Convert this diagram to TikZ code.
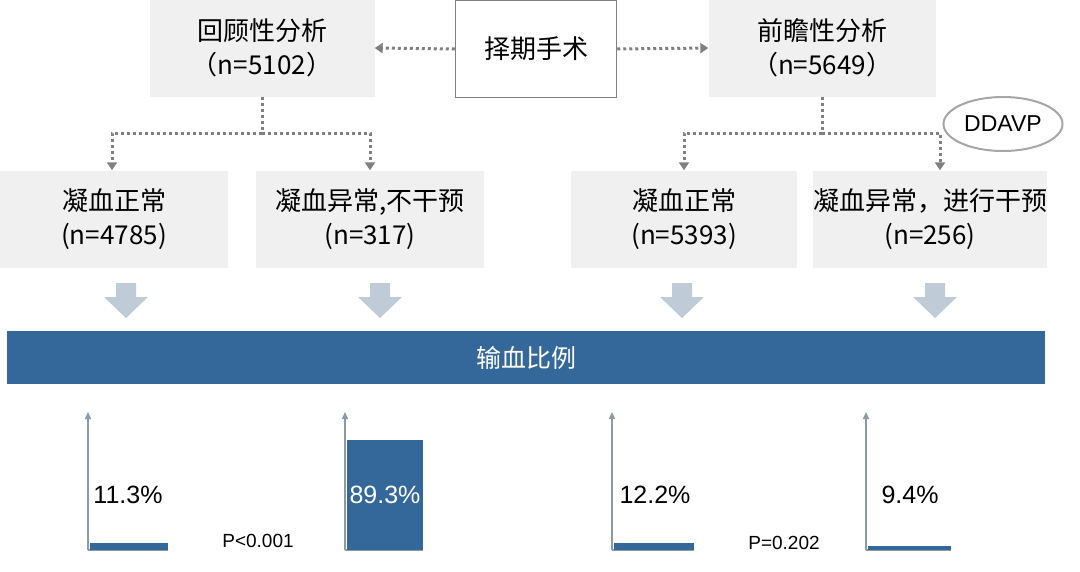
\documentclass[tikz,border=0pt]{standalone}
\usepackage{fontspec}
\setmainfont{Liberation Sans}
\newfontfamily\cjk{Noto Sans CJK SC}
\usetikzlibrary{arrows.meta,shapes.geometric}
\definecolor{boxg}{HTML}{F0F0F0}
\definecolor{dblue}{HTML}{35689A}
\definecolor{lblue}{HTML}{BFCCD8}
\definecolor{axg}{HTML}{8C9AA8}
\tikzset{
 gbox/.style={fill=boxg,draw=none,minimum height=97pt,align=center,font=\fontsize{26}{34}\selectfont\cjk,inner sep=0pt},
 dotarr/.style={draw=gray,line width=3pt,dash pattern=on 3pt off 3pt,-{Triangle[length=8pt,width=10pt,fill=gray]}},
 dotln/.style={draw=gray,line width=3pt,dash pattern=on 3pt off 3pt},
 blk/.style={fill=lblue,draw=none},
 axis/.style={draw=axg,line width=1.5pt},
 axarr/.style={draw=axg,line width=1.5pt,-{Triangle[length=7pt,width=6pt]}},
 pct/.style={font=\fontsize{25}{28}\selectfont},
}
\begin{document}
\begin{tikzpicture}[x=1pt,y=-1pt]
\useasboundingbox (0,0) rectangle (1080,571);
\node[gbox,minimum width=225pt] (r) at (262,48) {回顾性分析\\（n=5102）};
\node[draw=gray,line width=1.5pt,minimum width=161pt,minimum height=97pt,font=\fontsize{26}{30}\selectfont\cjk] (s) at (536,49) {择期手术};
\node[gbox,minimum width=227pt] (p) at (822,48) {前瞻性分析\\（n=5649）};
\draw[dotarr] (s.west) -- (r.east);
\draw[dotarr] (s.east) -- (p.west);
\node[draw=gray!70,line width=2pt,ellipse,minimum width=95pt,minimum height=54pt,font=\fontsize{23}{26}\selectfont] (dd) at (1003,124) {DDAVP};
\node[gbox,minimum width=228pt] (b1) at (114,219) {凝血正常\\(n=4785)};
\node[gbox,minimum width=228pt] (b2) at (370,219) {凝血异常,不干预\\(n=317)};
\node[gbox,minimum width=226pt] (b3) at (684,219) {凝血正常\\(n=5393)};
\node[gbox,minimum width=230pt] (b4) at (930,219) {凝血异常，进行干预\\(n=256)};
\coordinate (j1) at (262,133); \coordinate (j2) at (822,133);
\draw[dotln] (r.south) -- (j1);
\draw[dotarr] (j1) -| ([xshift=-2pt]b1.north);
\draw[dotarr] (j1) -| (b2.north);
\draw[dotln] (p.south) -- (j2);
\draw[dotarr] (j2) -| (b3.north);
\draw[dotarr] (j2) -| ([xshift=10pt]b4.north);
\foreach \x in {126,380,682,935}{
 \fill[blk] (\x-10,283) -- (\x+10,283) -- (\x+10,297) -- (\x+22,297) -- (\x,318) -- (\x-22,297) -- (\x-10,297) -- cycle;}
\node[fill=dblue,minimum width=1038pt,minimum height=53pt,inner sep=0pt,text=white,font=\fontsize{25}{28}\selectfont\cjk] (bar) at (526,357.5) {输血比例};
\foreach \x/\w/\h in {88/80/7,345/78/110,612/82/7,866/85/4}{
 \draw[axarr] (\x,550) -- (\x,412);
 \draw[axis] (\x,550) -- (\x+\w,550);
 \fill[dblue] (\x+2,550) rectangle (\x+\w,550-\h);}
\node[pct] (v1) at (128,495) {11.3\%};
\node[pct,text=white] (v2) at (385,495) {89.3\%};
\node[pct] (v3) at (655,495) {12.2\%};
\node[pct] (v4) at (910,495) {9.4\%};
\node[font=\fontsize{19}{22}\selectfont] (p1) at (258,541) {P<0.001};
\node[font=\fontsize{19}{22}\selectfont] (p2) at (784,543) {P=0.202};
\end{tikzpicture}
\end{document}
